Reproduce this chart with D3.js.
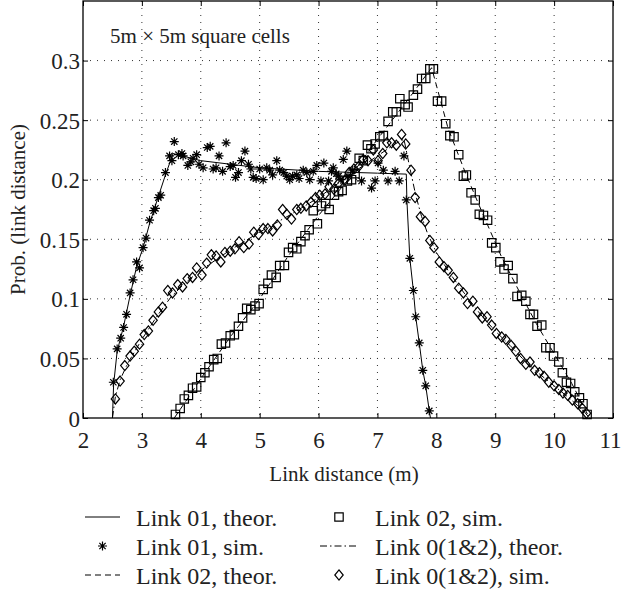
<!DOCTYPE html>
<html>
<head>
<meta charset="utf-8">
<script src="https://cdn.jsdelivr.net/npm/d3@7"></script>
<style>
  body { margin: 0; background: #fff; }
  svg { display: block; }
</style>
</head>
<body>
<div id="chart"></div>
<script>
// Link 01, theoretical curve (solid)
const link01Theor = [[2.50,0],[2.52,0.028],[2.58,0.056],[2.69,0.077],[2.80,0.103],[2.91,0.127],[3.02,0.143],
  [3.13,0.163],[3.28,0.186],[3.40,0.204],[3.53,0.222],[4.0,0.216],[5.0,0.210],[6.0,0.207],[7.0,0.2055],
  [7.49,0.2047],[7.50,0.183],[7.55,0.134],[7.61,0.107],[7.65,0.085],[7.71,0.063],[7.77,0.040],[7.82,0.027],
  [7.88,0.006],[7.90,0]];

// Link 01, simulation (asterisks)
const link01Sim = [[2.515,0.030],[2.58,0.058],[2.64,0.067],[2.69,0.076],[2.74,0.087],[2.80,0.105],[2.85,0.116],
  [2.91,0.131],[2.96,0.126],[3.02,0.143],[3.07,0.151],[3.13,0.166],[3.20,0.174],[3.23,0.176],[3.28,0.185],
  [3.32,0.187],[3.40,0.206],[3.47,0.220],[3.51,0.216],[3.55,0.232],[3.62,0.221],[3.68,0.222],[3.70,0.220],
  [3.78,0.212],[3.83,0.215],[3.87,0.218],[3.93,0.221],[3.97,0.213],[4.04,0.210],[4.11,0.227],[4.16,0.228],
  [4.21,0.209],[4.26,0.210],[4.31,0.220],[4.37,0.207],[4.43,0.231],[4.50,0.211],[4.55,0.212],[4.59,0.202],
  [4.64,0.206],[4.69,0.216],[4.75,0.224],[4.81,0.213],[4.85,0.209],[4.89,0.202],[4.94,0.201],[5.00,0.209],
  [5.06,0.200],[5.12,0.210],[5.17,0.208],[5.22,0.204],[5.29,0.216],[5.34,0.208],[5.41,0.206],[5.46,0.203],
  [5.51,0.200],[5.56,0.203],[5.63,0.204],[5.67,0.201],[5.74,0.208],[5.80,0.206],[5.85,0.200],[5.91,0.207],
  [5.97,0.212],[6.04,0.199],[6.09,0.214],[6.17,0.199],[6.22,0.207],[6.25,0.210],[6.30,0.205],[6.34,0.203],
  [6.38,0.200],[6.42,0.217],[6.48,0.224],[6.50,0.203],[6.58,0.208],[6.73,0.199],[6.90,0.193],[6.96,0.199],
  [7.01,0.214],[7.10,0.208],[7.18,0.199],[7.30,0.207],[7.37,0.199],[7.45,0.220],[7.49,0.183],[7.55,0.134],
  [7.61,0.107],[7.65,0.085],[7.71,0.063],[7.77,0.040],[7.82,0.027],[7.88,0.006]];

// Link 02, theoretical curve (dashed)
const link02Theor = [[3.55,0],[3.8,0.018],[4.0,0.033],[4.5,0.068],[5.0,0.100],[5.5,0.137],[6.0,0.170],
  [6.5,0.200],[7.0,0.234],[7.5,0.266],[7.92,0.294],[8.2,0.243],[8.5,0.205],[8.8,0.170],[9.1,0.136],
  [9.4,0.107],[9.7,0.079],[10.0,0.054],[10.3,0.029],[10.6,0]];

// Link 02, simulation (squares)
const link02Sim = [[3.57,0.003],[3.65,0.008],[3.72,0.016],[3.79,0.019],[3.86,0.025],[3.93,0.026],[4.00,0.034],
  [4.07,0.038],[4.14,0.043],[4.22,0.049],[4.28,0.050],[4.35,0.062],[4.42,0.063],[4.50,0.069],[4.57,0.070],
  [4.64,0.077],[4.71,0.084],[4.78,0.092],[4.85,0.091],[4.92,0.094],[4.99,0.096],[5.06,0.108],[5.14,0.113],
  [5.20,0.120],[5.28,0.118],[5.34,0.128],[5.42,0.128],[5.49,0.139],[5.56,0.143],[5.63,0.142],[5.70,0.148],
  [5.77,0.153],[5.84,0.158],[5.91,0.174],[5.98,0.163],[6.05,0.178],[6.12,0.180],[6.18,0.175],[6.27,0.187],
  [6.34,0.190],[6.40,0.191],[6.49,0.199],[6.56,0.200],[6.62,0.205],[6.69,0.218],[6.76,0.216],[6.83,0.229],
  [6.89,0.226],[6.96,0.230],[7.04,0.236],[7.10,0.237],[7.18,0.249],[7.26,0.257],[7.32,0.257],[7.38,0.268],
  [7.47,0.263],[7.52,0.261],[7.61,0.271],[7.68,0.276],[7.75,0.285],[7.82,0.285],[7.89,0.293],[7.95,0.293],
  [8.02,0.266],[8.09,0.266],[8.16,0.247],[8.23,0.237],[8.30,0.236],[8.38,0.221],[8.46,0.203],[8.51,0.204],
  [8.59,0.189],[8.66,0.183],[8.73,0.171],[8.80,0.170],[8.87,0.166],[8.94,0.147],[9.01,0.143],[9.08,0.131],
  [9.15,0.125],[9.22,0.128],[9.30,0.117],[9.37,0.102],[9.45,0.103],[9.52,0.098],[9.59,0.087],[9.65,0.087],
  [9.71,0.077],[9.79,0.078],[9.86,0.059],[9.93,0.059],[9.99,0.052],[10.08,0.047],[10.14,0.038],[10.21,0.030],
  [10.28,0.029],[10.35,0.022],[10.43,0.017],[10.49,0.012],[10.56,0.003]];

// Link 0(1&2), theoretical curve (dash-dot)
const link012Theor = [[2.50,0],[2.55,0.018],[2.63,0.032],[2.75,0.045],[3.0,0.066],[3.25,0.085],[3.5,0.102],
  [3.75,0.114],[4.0,0.124],[4.5,0.141],[5.0,0.156],[5.5,0.170],[6.0,0.185],[6.5,0.203],[7.0,0.220],
  [7.3,0.230],[7.45,0.234],[7.55,0.210],[7.65,0.187],[7.75,0.169],[7.85,0.155],[8.0,0.139],[8.25,0.120],
  [8.5,0.103],[8.75,0.087],[9.0,0.073],[9.25,0.061],[9.5,0.048],[9.75,0.037],[10.0,0.027],[10.25,0.017],
  [10.5,0.006],[10.6,0]];

// Link 0(1&2), simulation (diamonds)
const link012Sim = [[2.55,0.016],[2.63,0.031],[2.71,0.044],[2.80,0.052],[2.87,0.056],[2.96,0.062],[3.04,0.070],
  [3.11,0.073],[3.19,0.082],[3.28,0.089],[3.35,0.093],[3.44,0.107],[3.52,0.105],[3.61,0.112],[3.69,0.110],
  [3.77,0.117],[3.86,0.118],[3.93,0.126],[4.02,0.120],[4.10,0.130],[4.18,0.137],[4.26,0.136],[4.34,0.131],
  [4.41,0.139],[4.50,0.140],[4.58,0.142],[4.65,0.148],[4.73,0.143],[4.82,0.146],[4.90,0.156],[4.98,0.154],
  [5.06,0.159],[5.14,0.159],[5.22,0.157],[5.30,0.162],[5.39,0.175],[5.46,0.171],[5.54,0.167],[5.63,0.175],
  [5.70,0.176],[5.79,0.178],[5.87,0.181],[5.95,0.185],[6.02,0.187],[6.11,0.188],[6.18,0.194],[6.26,0.192],
  [6.34,0.197],[6.45,0.200],[6.52,0.206],[6.60,0.209],[6.68,0.211],[6.76,0.217],[6.84,0.216],[6.93,0.225],
  [7.01,0.216],[7.09,0.222],[7.16,0.231],[7.24,0.231],[7.32,0.229],[7.41,0.238],[7.48,0.230],[7.57,0.208],
  [7.64,0.185],[7.73,0.169],[7.81,0.165],[7.89,0.149],[7.96,0.143],[8.05,0.131],[8.13,0.127],[8.20,0.124],
  [8.29,0.118],[8.38,0.109],[8.46,0.105],[8.53,0.096],[8.62,0.098],[8.70,0.089],[8.78,0.084],[8.86,0.085],
  [8.94,0.078],[9.02,0.071],[9.11,0.068],[9.18,0.066],[9.27,0.061],[9.35,0.056],[9.43,0.050],[9.52,0.045],
  [9.59,0.047],[9.67,0.040],[9.75,0.038],[9.83,0.035],[9.91,0.030],[10.00,0.027],[10.08,0.024],[10.15,0.021],
  [10.23,0.019],[10.31,0.015],[10.40,0.012],[10.48,0.008],[10.55,0.004]];

const xTicks = [2, 3, 4, 5, 6, 7, 8, 9, 10, 11];
const yTicks = [0, 0.05, 0.1, 0.15, 0.2, 0.25, 0.3];
const legendLabels = ["Link 01, theor.", "Link 01, sim.", "Link 02, theor.",
  "Link 02, sim.", "Link 0(1&2), theor.", "Link 0(1&2), sim."];

const w = 622, h = 592;
const margin = { left: 83, top: 1, right: 9, bottom: 174 };
const pw = w - margin.left - margin.right, ph = h - margin.top - margin.bottom;
const font = "'Liberation Serif'";

const svg = d3.select("#chart").append("svg").attr("width", w).attr("height", h);
const g = svg.append("g").attr("transform", `translate(${margin.left},${margin.top})`);

const x = d3.scaleLinear().domain([2, 11]).range([0, pw]);
const y = d3.scaleLinear().domain([0, 0.35]).range([ph, 0]);

// dotted grid
const grid = g.append("g");
grid.selectAll(".gx").data(xTicks.slice(1, -1)).join("line").attr("class", "gx")
  .attr("x1", d => x(d)).attr("x2", d => x(d)).attr("y1", 0).attr("y2", ph);
grid.selectAll(".gy").data(yTicks.slice(1)).join("line").attr("class", "gy")
  .attr("x1", 0).attr("x2", pw).attr("y1", d => y(d)).attr("y2", d => y(d));
grid.selectAll("line").attr("stroke", "#333").attr("stroke-width", 1).attr("stroke-dasharray", "1,6");

// symbols
const asterisk = r => `M0,${-r}V${r}M${-r},0H${r}M${-r*0.7},${-r*0.7}L${r*0.7},${r*0.7}M${-r*0.7},${r*0.7}L${r*0.7},${-r*0.7}`;
const square = r => `M${-r},${-r}H${r}V${r}H${-r}Z`;
const diamond = r => `M0,${-r*1.2}L${r},0L0,${r*1.2}L${-r},0Z`;

const line = d3.line().x(d => x(d[0])).y(d => y(d[1]));

const curves = [
  { data: link01Theor, dash: null },
  { data: link02Theor, dash: "6,4" },
  { data: link012Theor, dash: "7,3,1.5,3" }
];
curves.forEach(c => {
  g.append("path").datum(c.data).attr("d", line)
    .attr("fill", "none").attr("stroke", "#000").attr("stroke-width", 1)
    .attr("stroke-dasharray", c.dash);
});

const marks = [
  { data: link02Sim, path: square(4.2) },
  { data: link012Sim, path: diamond(4.2) },
  { data: link01Sim, path: asterisk(4.5) }
];
marks.forEach(m => {
  g.append("g").selectAll("path").data(m.data).join("path")
    .attr("transform", d => `translate(${x(d[0])},${y(d[1])})`)
    .attr("d", m.path)
    .attr("fill", "none").attr("stroke", "#000").attr("stroke-width", 1.2);
});

// axes with inward ticks, box around the plot
const xAxis = g.append("g").attr("transform", `translate(0,${ph})`)
  .call(d3.axisBottom(x).tickValues(xTicks).tickSizeInner(-5).tickSizeOuter(0).tickPadding(14).tickFormat(d3.format("d")));
xAxis.selectAll("text").attr("text-anchor", d => d === 11 ? "end" : "middle").attr("dx", d => d === 11 ? "0.35em" : 0);
const yAxis = g.append("g")
  .call(d3.axisLeft(y).tickValues(yTicks).tickSizeInner(-5).tickSizeOuter(0).tickPadding(3).tickFormat(d => d3.format("")(d)));
yAxis.selectAll("text").attr("dy", "0.35em");
g.append("g")
  .call(d3.axisTop(x).tickValues(xTicks).tickSizeInner(-5).tickSizeOuter(0).tickFormat(""));
g.append("g").attr("transform", `translate(${pw},0)`)
  .call(d3.axisRight(y).tickValues(yTicks).tickSizeInner(-5).tickSizeOuter(0).tickFormat(""));
g.selectAll(".domain").remove();
g.selectAll(".tick line").attr("stroke", "#000");
g.append("rect").attr("width", pw).attr("height", ph)
  .attr("fill", "none").attr("stroke", "#000").attr("stroke-width", 1.3);

const title = g.append("text").attr("x", x(2.46)).attr("y", y(0.315)).text("5m × 5m square cells");

// axis titles
const xTitle = svg.append("text").attr("x", margin.left + pw / 2 - 4).attr("y", 481)
  .attr("text-anchor", "middle").text("Link distance (m)");
const yTitle = svg.append("text").attr("transform", `translate(25,${margin.top + ph / 2}) rotate(-90)`)
  .attr("text-anchor", "middle").text("Prob. (link distance)");

// legend in two columns
const rows = [517, 546, 575];
const legend = svg.append("g");
const items = [
  { col: 0, row: 0, type: "line", dash: null },
  { col: 0, row: 1, type: "mark", path: asterisk(4.5) },
  { col: 0, row: 2, type: "line", dash: "6,4" },
  { col: 1, row: 0, type: "mark", path: square(4.2) },
  { col: 1, row: 1, type: "line", dash: "7,3,1.5,3" },
  { col: 1, row: 2, type: "mark", path: diamond(4.2) }
];
const cols = [{ x1: 85, x2: 120, tx: 136 }, { x1: 320, x2: 358, tx: 375 }];
items.forEach((it, i) => {
  const c = cols[it.col], yy = rows[it.row];
  if (it.type === "line") {
    legend.append("line").attr("x1", c.x1).attr("x2", c.x2).attr("y1", yy).attr("y2", yy)
      .attr("stroke", "#000").attr("stroke-width", 1).attr("stroke-dasharray", it.dash);
  } else {
    legend.append("path").attr("transform", `translate(${(c.x1 + c.x2) / 2},${yy})`)
      .attr("d", it.path).attr("fill", "none").attr("stroke", "#000").attr("stroke-width", 1.2);
  }
  legend.append("text").attr("class", "leg").attr("x", c.tx).attr("y", yy + 9).text(legendLabels[i]);
});

// serif text everywhere, sizes differ a little between groups
svg.selectAll("text").style("font-family", font).attr("fill", "#222").style("font-size", "21px");
xAxis.selectAll("text").style("font-size", "23px");
yAxis.selectAll("text").style("font-size", "23px");
legend.selectAll("text").style("font-size", "24px");
</script>
</body>
</html>
